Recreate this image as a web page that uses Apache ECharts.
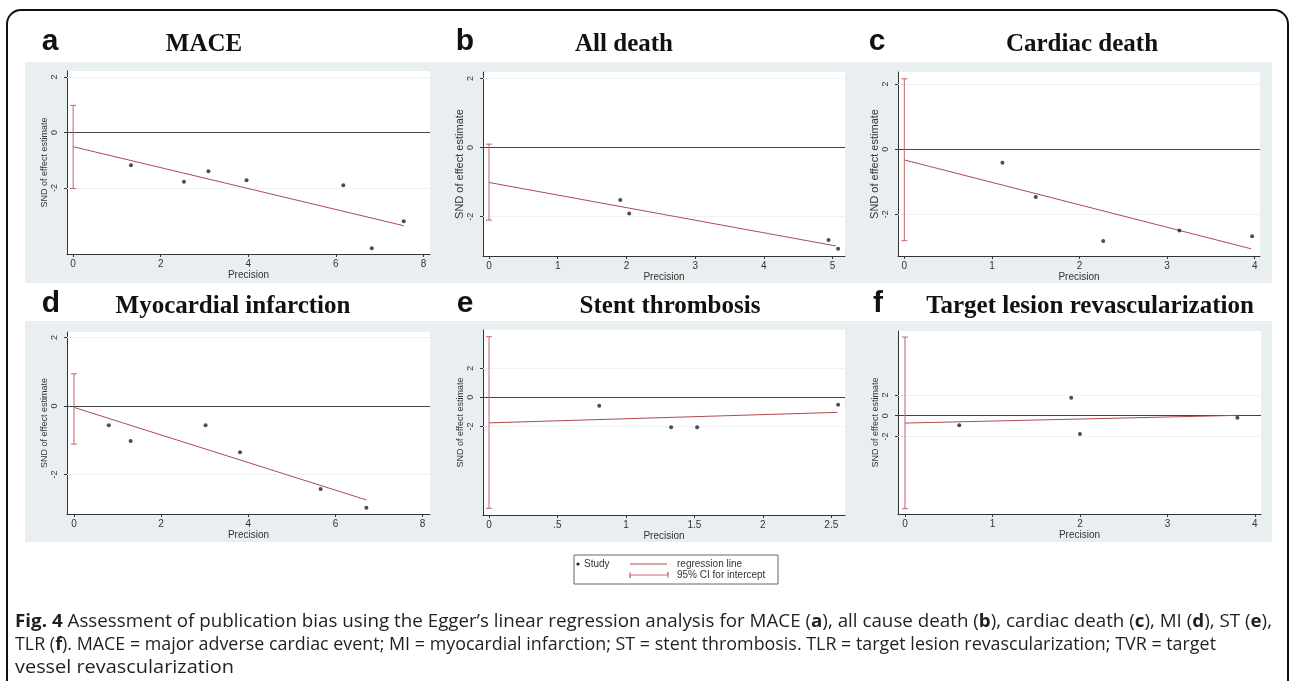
<!DOCTYPE html>
<html>
<head>
<meta charset="utf-8">
<title>Egger's test - publication bias</title>
<script src="https://cdn.jsdelivr.net/npm/echarts@6/dist/echarts.min.js"></script>
<style>
    html, body { margin: 0; padding: 0; background: #fff; }
    #egger_chart { width: 1290px; height: 681px; }
</style>
</head>
<body>
<div id="egger_chart"></div>
<script>

// Chart data
// ------------------------------

var panelLetters = ['a', 'b', 'c', 'd', 'e', 'f'];
var panelTitles = ['MACE', 'All death', 'Cardiac death', 'Myocardial infarction', 'Stent thrombosis', 'Target lesion revascularization'];

// Study points [precision, SND of effect estimate]
var studiesA = [[1.32, -1.18], [2.53, -1.77], [3.09, -1.40], [3.96, -1.72], [6.17, -1.90], [6.82, -4.17], [7.55, -3.20]];
var studiesB = [[1.91, -1.52], [2.04, -1.91], [4.94, -2.68], [5.08, -2.93]];
var studiesC = [[1.12, -0.42], [1.50, -1.47], [2.27, -2.82], [3.14, -2.50], [3.97, -2.67]];
var studiesD = [[0.80, -0.56], [1.30, -1.02], [3.02, -0.56], [3.81, -1.35], [5.66, -2.42], [6.71, -2.97]];
var studiesE = [[0.805, -0.57], [1.33, -2.05], [1.52, -2.05], [2.55, -0.50]];
var studiesF = [[0.62, -0.93], [1.90, 1.73], [2.00, -1.77], [3.80, -0.19]];

// Regression line end points
var regA = [[0, -0.51], [7.55, -3.36]];
var regB = [[0, -1.01], [5.05, -2.85]];
var regC = [[0, -0.33], [3.96, -3.06]];
var regD = [[0, -0.04], [6.71, -2.74]];
var regE = [[0, -1.75], [2.545, -1.03]];
var regF = [[0, -0.71], [3.80, 0.03]];

// 95% CI for intercept [x, low, high]
var ciA = [0, -2.02, 0.98];
var ciB = [0, -2.10, 0.10];
var ciC = [0, -2.81, 2.16];
var ciD = [0, -1.11, 0.94];
var ciE = [0, -7.61, 4.16];
var ciF = [0, -8.94, 7.56];

// Tick values
var xTicksA = [0, 2, 4, 6, 8];
var xTicksB = [0, 1, 2, 3, 4, 5];
var xTicksC = [0, 1, 2, 3, 4];
var xTicksD = [0, 2, 4, 6, 8];
var xTicksE = [0, 0.5, 1, 1.5, 2, 2.5];
var xTicksF = [0, 1, 2, 3, 4];
var yTicks = [-2, 0, 2];

var studies = [studiesA, studiesB, studiesC, studiesD, studiesE, studiesF];
var regs = [regA, regB, regC, regD, regE, regF];
var cis = [ciA, ciB, ciC, ciD, ciE, ciF];
var xTicks = [xTicksA, xTicksB, xTicksC, xTicksD, xTicksE, xTicksF];


// Setup module
// ------------------------------

var EchartsEggerPanels = function() {

    // Plot region of each panel (pixels) and axis ranges
    var layouts = [
        { left: 67,  top: 71,  right: 430,  bottom: 254, xMin: -0.14,  xMax: 8.15, yMin: -4.38, yMax: 2.22, nameSize: 9,  letterX: 50,  titleX: 204 },
        { left: 483, top: 72,  right: 845,  bottom: 256, xMin: -0.087, xMax: 5.18, yMin: -3.14, yMax: 2.19, nameSize: 11, letterX: 465, titleX: 624 },
        { left: 898, top: 72,  right: 1260, bottom: 256, xMin: -0.072, xMax: 4.06, yMin: -3.28, yMax: 2.37, nameSize: 11, letterX: 877, titleX: 1082 },
        { left: 67,  top: 332, right: 430,  bottom: 514, xMin: -0.16,  xMax: 8.17, yMin: -3.15, yMax: 2.16, nameSize: 9,  letterX: 51,  titleX: 233 },
        { left: 483, top: 330, right: 845,  bottom: 515, xMin: -0.044, xMax: 2.60, yMin: -8.07, yMax: 4.62, nameSize: 9,  letterX: 465, titleX: 670 },
        { left: 898, top: 331, right: 1261, bottom: 514, xMin: -0.08,  xMax: 4.07, yMin: -9.45, yMax: 8.14, nameSize: 9,  letterX: 878, titleX: 1090 }
    ];

    var axisFont = 'Liberation Sans, Arial, sans-serif';
    var regColor = '#b04a52';
    var ciColor = '#c2646c';
    var dotColor = '#1b2030';

    // Text width helper
    var measureCtx = document.createElement('canvas').getContext('2d');
    var textWidth = function(str, font) {
        measureCtx.font = font;
        return measureCtx.measureText(str).width;
    };

    var tickFormat = function(v) {
        var s = String(v);
        return s.indexOf('0.') === 0 ? s.slice(1) : s;
    };

    var _eggerPanels = function() {
        if (typeof echarts == 'undefined') {
            console.warn('Warning - echarts.min.js is not loaded.');
            return;
        }

        var chart_element = document.getElementById('egger_chart');
        if (!chart_element) {
            return;
        }

        var chart = echarts.init(chart_element, null, { renderer: 'canvas' });

        var grids = [], xAxes = [], yAxes = [], series = [], graphics = [];

        //
        // Background shapes (drawn behind everything)
        //

        graphics.push({
            type: 'rect', z: -10, silent: true,
            shape: { x: 25, y: 62, width: 1247, height: 221 },
            style: { fill: '#e9eff1' }
        });
        graphics.push({
            type: 'rect', z: -10, silent: true,
            shape: { x: 25, y: 321, width: 1247, height: 221 },
            style: { fill: '#e9eff1' }
        });

        // Outer rounded frame
        graphics.push({
            type: 'rect', z: 10, silent: true,
            shape: { x: 7, y: 10, width: 1281, height: 720, r: 14 },
            style: { fill: 'none', stroke: '#111', lineWidth: 2 }
        });

        //
        // Panels
        //

        layouts.forEach(function(L, i) {
            grids.push({
                left: L.left,
                top: L.top,
                width: L.right - L.left,
                height: L.bottom - L.top,
                show: true,
                backgroundColor: '#fff',
                borderWidth: 0,
                containLabel: false
            });

            xAxes.push({
                type: 'value',
                gridIndex: i,
                min: L.xMin,
                max: L.xMax,
                name: 'Precision',
                nameLocation: 'middle',
                nameGap: 15,
                nameTextStyle: { fontFamily: axisFont, fontSize: 10, color: '#333' },
                axisLine: { show: true, onZero: false, lineStyle: { color: '#333', width: 1 } },
                axisTick: { show: true, length: 3, customValues: xTicks[i], lineStyle: { color: '#333' } },
                axisLabel: {
                    customValues: xTicks[i],
                    formatter: tickFormat,
                    margin: 5,
                    fontFamily: axisFont,
                    fontSize: 10,
                    color: '#333'
                },
                splitLine: { show: false }
            });

            yAxes.push({
                type: 'value',
                gridIndex: i,
                min: L.yMin,
                max: L.yMax,
                name: 'SND of effect estimate',
                nameLocation: 'middle',
                nameRotate: 90,
                nameGap: 17,
                nameTextStyle: { fontFamily: axisFont, fontSize: L.nameSize, color: '#333' },
                axisLine: { show: true, onZero: false, lineStyle: { color: '#333', width: 1 } },
                axisTick: { show: true, length: 3, customValues: yTicks, lineStyle: { color: '#333' } },
                axisLabel: {
                    customValues: yTicks,
                    rotate: 90,
                    margin: 8,
                    fontFamily: axisFont,
                    fontSize: 9,
                    color: '#333'
                },
                splitLine: { show: false }
            });

            // Reference lines: faint grid + y = 0
            var refLines = yTicks.map(function(v) {
                return {
                    yAxis: v,
                    lineStyle: v === 0 ? { color: '#444', width: 1, type: 'solid' } : { color: '#eef2f3', width: 1, type: 'solid' }
                };
            });

            // Regression line
            series.push({
                name: 'regression line',
                type: 'line',
                xAxisIndex: i,
                yAxisIndex: i,
                data: regs[i],
                showSymbol: false,
                symbol: 'none',
                lineStyle: { color: regColor, width: 1 },
                silent: true,
                z: 3,
                markLine: {
                    silent: true,
                    symbol: 'none',
                    label: { show: false },
                    data: refLines,
                    z: 1
                }
            });

            // CI for intercept
            series.push({
                name: '95% CI for intercept',
                type: 'custom',
                xAxisIndex: i,
                yAxisIndex: i,
                data: [cis[i]],
                encode: { x: 0, y: [1, 2] },
                silent: true,
                z: 4,
                renderItem: function(params, api) {
                    var lo = api.coord([api.value(0), api.value(1)]);
                    var hi = api.coord([api.value(0), api.value(2)]);
                    var cap = 3;
                    var st = { stroke: ciColor, lineWidth: 1 };
                    return {
                        type: 'group',
                        children: [
                            { type: 'line', shape: { x1: lo[0], y1: lo[1], x2: hi[0], y2: hi[1] }, style: st },
                            { type: 'line', shape: { x1: lo[0] - cap, y1: lo[1], x2: lo[0] + cap, y2: lo[1] }, style: st },
                            { type: 'line', shape: { x1: hi[0] - cap, y1: hi[1], x2: hi[0] + cap, y2: hi[1] }, style: st }
                        ]
                    };
                }
            });

            // Study points
            series.push({
                name: 'Study',
                type: 'scatter',
                xAxisIndex: i,
                yAxisIndex: i,
                data: studies[i],
                symbol: 'circle',
                symbolSize: 4,
                itemStyle: { color: dotColor },
                silent: true,
                z: 5
            });

            // Panel letter and title
            var rowY = i < 3 ? 42 : 304;
            graphics.push({
                type: 'text', silent: true,
                style: {
                    text: panelLetters[i], x: L.letterX, y: rowY,
                    align: 'center', verticalAlign: 'middle',
                    font: 'bold 30px Liberation Sans, Arial, sans-serif', fill: '#111'
                }
            });
            graphics.push({
                type: 'text', silent: true,
                style: {
                    text: panelTitles[i], x: L.titleX, y: rowY + 3,
                    align: 'center', verticalAlign: 'middle',
                    font: 'bold 25px Liberation Serif, Times New Roman, serif', fill: '#111'
                }
            });
        });

        //
        // Legend box
        //

        var legFont = '10px Liberation Sans, Arial, sans-serif';
        graphics.push({
            type: 'rect', silent: true,
            shape: { x: 574, y: 555, width: 204, height: 29 },
            style: { fill: '#fff', stroke: '#666', lineWidth: 1 }
        });
        graphics.push({
            type: 'circle', silent: true,
            shape: { cx: 578, cy: 564, r: 1.6 },
            style: { fill: dotColor }
        });
        graphics.push({
            type: 'text', silent: true,
            style: { text: 'Study', x: 584, y: 564, verticalAlign: 'middle', font: legFont, fill: '#333' }
        });
        graphics.push({
            type: 'line', silent: true,
            shape: { x1: 630, y1: 564, x2: 667, y2: 564 },
            style: { stroke: regColor, lineWidth: 1 }
        });
        graphics.push({
            type: 'text', silent: true,
            style: { text: 'regression line', x: 677, y: 564, verticalAlign: 'middle', font: legFont, fill: '#333' }
        });
        graphics.push({
            type: 'polyline', silent: true,
            shape: { points: [[630, 572], [630, 578], [630, 575], [668, 575], [668, 572], [668, 578]] },
            style: { stroke: ciColor, lineWidth: 1, fill: 'none' }
        });
        graphics.push({
            type: 'text', silent: true,
            style: { text: '95% CI for intercept', x: 677, y: 575, verticalAlign: 'middle', font: legFont, fill: '#333' }
        });

        //
        // Caption (condensed by horizontal scaling, one scale per line)
        //

        var capSize = 18;
        var capReg = capSize + 'px Open Sans, Liberation Sans, sans-serif';
        var capBold = 'bold ' + capReg;
        var captionLines = [
            [['Fig. 4', 1], [' Assessment of publication bias using the Egger\u2019s linear regression analysis for MACE (', 0], ['a', 1], ['), all cause death (', 0], ['b', 1], ['), cardiac death (', 0], ['c', 1], ['), MI (', 0], ['d', 1], ['), ST (', 0], ['e', 1], ['),', 0]],
            [['TLR (', 0], ['f', 1], ['). MACE = major adverse cardiac event; MI = myocardial infarction; ST = stent thrombosis. TLR = target lesion revascularization; TVR = target', 0]],
            [['vessel revascularization', 0]]
        ];
        var lineY = [622, 645, 668];
        var lineW = [1257, 1201, 219];

        captionLines.forEach(function(segs, li) {
            var cx = 0;
            var children = segs.map(function(seg) {
                var f = seg[1] ? capBold : capReg;
                var el = {
                    type: 'text',
                    x: cx,
                    style: { text: seg[0], x: 0, y: 0, verticalAlign: 'middle', font: f, fill: '#231f20' }
                };
                cx += textWidth(seg[0], f);
                return el;
            });
            graphics.push({
                type: 'group', silent: true,
                x: 15, y: lineY[li],
                scaleX: lineW[li] / cx, scaleY: 1,
                children: children
            });
        });

        chart.setOption({
            animation: false,
            backgroundColor: '#fff',
            textStyle: { fontFamily: axisFont },
            grid: grids,
            xAxis: xAxes,
            yAxis: yAxes,
            series: series,
            graphic: { elements: graphics }
        });

        window.addEventListener('resize', function() {
            chart.resize();
        });
    };

    return {
        init: function() {
            _eggerPanels();
        }
    };
}();


// Initialize module
// ------------------------------

document.addEventListener('DOMContentLoaded', function() {
    EchartsEggerPanels.init();
});
</script>
</body>
</html>
